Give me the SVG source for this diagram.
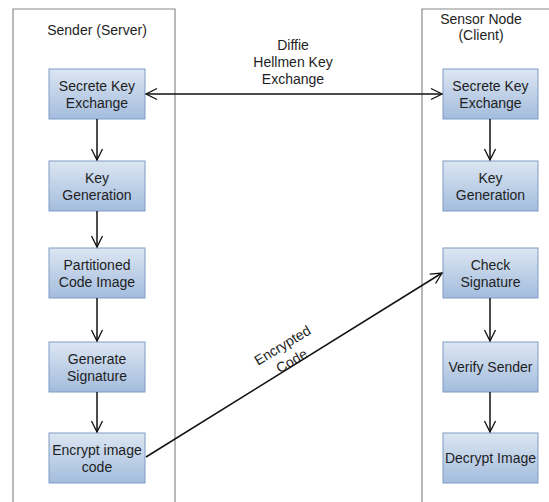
<svg xmlns="http://www.w3.org/2000/svg" width="549" height="502" viewBox="0 0 549 502">
<style>
  .lane { fill: none; stroke: #8a8a8a; stroke-width: 1.2; }
  .box { fill: url(#g); stroke: #7f9cc4; stroke-width: 1; }
  .t { font-family: "Liberation Sans", Arial, sans-serif; font-size: 14px; fill: #1e1e1e; text-anchor: middle; }
  .c { fill: none; stroke: #111; stroke-width: 1.5; }
</style>
<defs>
  <linearGradient id="g" x1="0" y1="0" x2="0" y2="1">
    <stop offset="0" stop-color="#dce6f2"/>
    <stop offset="1" stop-color="#a3bcdd"/>
  </linearGradient>
  <marker id="a" markerUnits="userSpaceOnUse" markerWidth="14" markerHeight="14" refX="12" refY="6.5" orient="auto-start-reverse" viewBox="0 0 14 13">
    <path d="M1,1 L12,6.5 L1,12" fill="none" stroke="#111" stroke-width="1.3"/>
  </marker>
</defs>
<rect width="549" height="502" fill="#ffffff"/>
<g id="lane-sender">
  <path class="lane" d="M13,504 L13,9 L175,9 L175,504"/>
  <text class="t" x="97" y="35">Sender (Server)</text>
</g>
<g id="lane-sensor">
  <path class="lane" d="M422,504 L422,9 L551,9"/>
  <text class="t" x="481" y="24">Sensor Node</text>
  <text class="t" x="481" y="40">(Client)</text>
</g>
<g id="s1"><rect class="box" x="49" y="69" width="96" height="50"/><text class="t" x="97" y="91">Secrete Key</text><text class="t" x="97" y="108">Exchange</text></g>
<g id="s2"><rect class="box" x="49" y="161" width="96" height="50"/><text class="t" x="97" y="183">Key</text><text class="t" x="97" y="200">Generation</text></g>
<g id="s3"><rect class="box" x="49" y="248" width="96" height="50"/><text class="t" x="97" y="270">Partitioned</text><text class="t" x="97" y="287">Code Image</text></g>
<g id="s4"><rect class="box" x="49" y="342" width="96" height="50"/><text class="t" x="97" y="364">Generate</text><text class="t" x="97" y="381">Signature</text></g>
<g id="s5"><rect class="box" x="49" y="433" width="96" height="50"/><text class="t" x="97" y="455">Encrypt image</text><text class="t" x="97" y="472">code</text></g>
<g id="r1"><rect class="box" x="443" y="69" width="95" height="50"/><text class="t" x="490.5" y="91">Secrete Key</text><text class="t" x="490.5" y="108">Exchange</text></g>
<g id="r2"><rect class="box" x="443" y="161" width="95" height="50"/><text class="t" x="490.5" y="183">Key</text><text class="t" x="490.5" y="200">Generation</text></g>
<g id="r3"><rect class="box" x="443" y="248" width="95" height="50"/><text class="t" x="490.5" y="270">Check</text><text class="t" x="490.5" y="287">Signature</text></g>
<g id="r4"><rect class="box" x="443" y="342" width="95" height="50"/><text class="t" x="490.5" y="372">Verify Sender</text></g>
<g id="r5"><rect class="box" x="443" y="433" width="95" height="50"/><text class="t" x="490.5" y="463">Decrypt Image</text></g>
<g id="connectors">
  <line class="c" x1="97" y1="119" x2="97" y2="160" marker-end="url(#a)"/>
  <line class="c" x1="97" y1="211" x2="97" y2="247" marker-end="url(#a)"/>
  <line class="c" x1="97" y1="298" x2="97" y2="341" marker-end="url(#a)"/>
  <line class="c" x1="97" y1="392" x2="97" y2="432" marker-end="url(#a)"/>
  <line class="c" x1="490" y1="119" x2="490" y2="160" marker-end="url(#a)"/>
  <line class="c" x1="490" y1="298" x2="490" y2="341" marker-end="url(#a)"/>
  <line class="c" x1="490" y1="392" x2="490" y2="432" marker-end="url(#a)"/>
  <line class="c" x1="146" y1="94" x2="442" y2="94" marker-start="url(#a)" marker-end="url(#a)"/>
  <text class="t" x="293" y="50">Diffie</text>
  <text class="t" x="293" y="67">Hellmen Key</text>
  <text class="t" x="293" y="84">Exchange</text>
  <line class="c" x1="146" y1="457" x2="442" y2="273" marker-end="url(#a)"/>
  <text class="t" transform="translate(287,353) rotate(-31)"><tspan x="0" y="-4">Encrypted</tspan><tspan x="0" y="14">Code</tspan></text>
</g>
</svg>
